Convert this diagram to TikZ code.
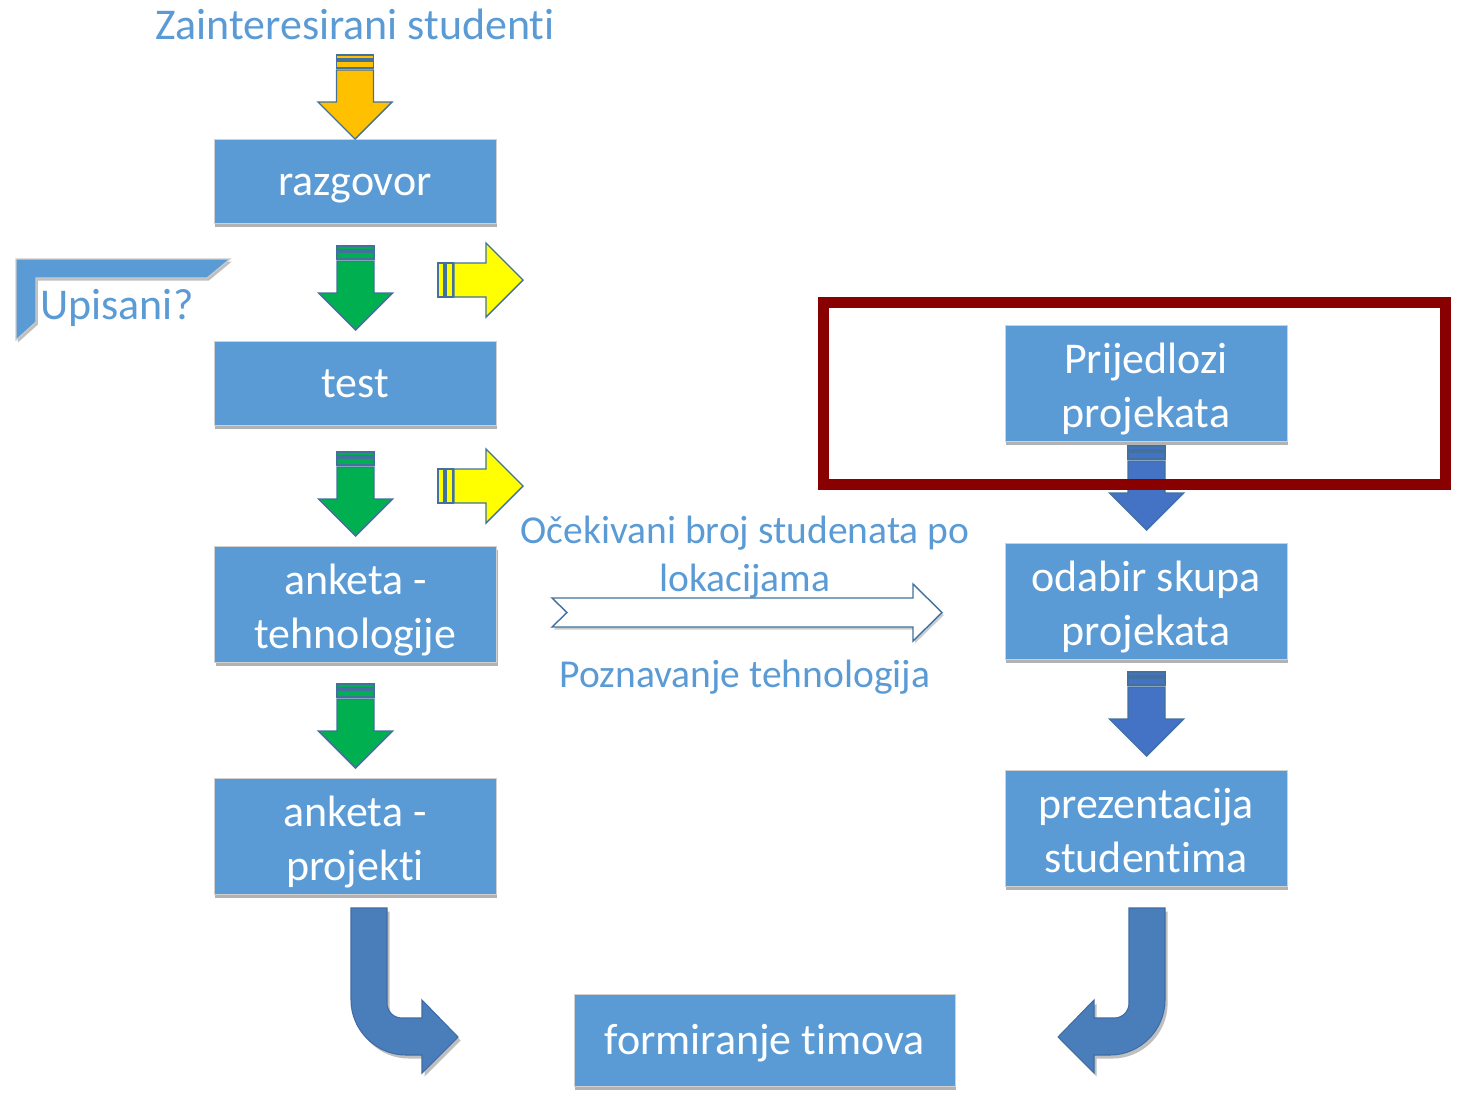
\documentclass[tikz,border=0pt]{standalone}
\usepackage{fontspec}
\setmainfont{Carlito}[Ligatures={CommonOff,ContextualOff}, RawFeature={-liga;-clig;-dlig}]
\usetikzlibrary{shadows}

\definecolor{boxblue}{HTML}{5B9BD5}
\definecolor{lineblue}{HTML}{41719C}
\definecolor{arrowgold}{HTML}{FFC000}
\definecolor{arrowgreen}{HTML}{00B050}
\definecolor{arrowyellow}{HTML}{FFFF00}
\definecolor{arrowblue}{HTML}{4472C4}
\definecolor{curveblue}{RGB}{74,126,187}
\definecolor{curveedge}{RGB}{62,108,165}
\definecolor{framered}{HTML}{880000}

% fixed line strut so that every box line sits at the same baseline offset
\newcommand\LineStrut{\rule[-6.5pt]{0pt}{30pt}}
% taller first line for two-line boxes
\newcommand\UpperStrut{\rule{0pt}{26.6pt}}

\tikzset{
  stepbox/.style={rectangle, fill=boxblue, draw=black!18, line width=0.5pt,
    text=white, align=center,
    font=\fontsize{25}{30.6}\selectfont, inner sep=0pt,
    minimum width=5.64cm,
    execute at begin node=\LineStrut, execute at end node=\LineStrut,
    drop shadow={shadow xshift=0.6pt, shadow yshift=-2pt, opacity=0.3, fill=black}},
  bluetext/.style={text=boxblue, inner sep=0pt, font=\fontsize{25}{30.6}\selectfont},
  midtext/.style={text=boxblue, inner sep=0pt, font=\fontsize{22.5}{27.4}\selectfont},
  blockarrow/.style={draw=lineblue, line width=0.8pt, line join=miter},
  curvearrow/.style={fill=curveblue, draw=curveedge, line width=0.6pt,
    drop shadow={shadow xshift=1.5pt, shadow yshift=-2pt, opacity=0.25, fill=black}},
}

% striped block arrow pointing down: centre x, top y, fill colour
\newcommand\StripeDown[3]{%
  \filldraw[blockarrow, fill=#3] ({#1-18.5},{#2}) rectangle ({#1+18.5},{#2+4});
  \filldraw[blockarrow, fill=#3] ({#1-18.5},{#2+6}) rectangle ({#1+18.5},{#2+13});
  \filldraw[blockarrow, fill=#3] ({#1-18.5},{#2+15}) -- ({#1+18.5},{#2+15})
    -- ({#1+18.5},{#2+47}) -- ({#1+37},{#2+47}) -- ({#1},{#2+84})
    -- ({#1-37},{#2+47}) -- ({#1-18.5},{#2+47}) -- cycle;
}
% striped block arrow pointing right: left x, centre y, fill colour
\newcommand\StripeRight[3]{%
  \filldraw[blockarrow, fill=#3] ({#1},{#2-17}) rectangle ({#1+6},{#2+17});
  \filldraw[blockarrow, fill=#3] ({#1+8},{#2-17}) rectangle ({#1+15},{#2+17});
  \filldraw[blockarrow, fill=#3] ({#1+16},{#2-17}) -- ({#1+48},{#2-17})
    -- ({#1+48},{#2-37}) -- ({#1+85},{#2}) -- ({#1+48},{#2+37})
    -- ({#1+48},{#2+17}) -- ({#1+16},{#2+17}) -- cycle;
}

\begin{document}
\begin{tikzpicture}[x=0.02cm, y=-0.02cm]
\useasboundingbox (0,0) rectangle (1460,1096);

% ---- left column ----
\node[bluetext, anchor=base] (title) at (355,39) {Zainteresirani studenti};

\node[stepbox, minimum height=1.68cm] (razgovor) at (355,181) {razgovor};
\node[stepbox, minimum height=1.68cm] (test) at (355,383) {test};
\node[stepbox, minimum height=2.32cm] (anktech) at (355.5,604) {\UpperStrut anketa -\\tehnologije};
\node[stepbox, minimum height=2.32cm] (ankproj) at (355,836) {\UpperStrut anketa -\\projekti};

\StripeDown{355}{55}{arrowgold}
\StripeDown{355.5}{246}{arrowgreen}
\StripeDown{355.5}{452}{arrowgreen}
\StripeDown{355.5}{684}{arrowgreen}

\StripeRight{438}{280}{arrowyellow}
\StripeRight{438}{486}{arrowyellow}

% corner tab with question
\filldraw[fill=boxblue, draw=black!20, line width=0.6pt,
  drop shadow={shadow xshift=1pt, shadow yshift=-1.5pt, opacity=0.25, fill=black}]
  (16,259) -- (230,259) -- (207,278) -- (36,278) -- (36,322) -- (16,340) -- cycle;
\node[bluetext, anchor=base west] (upisani) at (40,319) {Upisani?};

% ---- middle ----
\node[midtext, anchor=base] (ocek) at (745,543) {Očekivani broj studenata po};
\node[midtext, anchor=base] (lokac) at (745,591) {lokacijama};
\node[midtext, anchor=base] (pozn) at (745,687) {Poznavanje tehnologija};

\filldraw[fill=white, draw=lineblue, line width=0.8pt,
  drop shadow={shadow xshift=1pt, shadow yshift=-1.5pt, opacity=0.2, fill=black}]
  (552,598) -- (913,598) -- (913,584) -- (942,612.5) -- (913,641)
  -- (913,627) -- (552,627) -- (567,612.5) -- cycle;

% ---- right column ----
\node[stepbox, minimum height=2.32cm] (prijed) at (1146,383) {\UpperStrut Prijedlozi\\projekata};
\node[stepbox, minimum height=2.32cm] (odabir) at (1146,601) {\UpperStrut odabir skupa\\projekata};
\node[stepbox, minimum height=2.32cm] (prez) at (1146,828) {\UpperStrut prezentacija\\studentima};

\StripeDown{1146.5}{446}{arrowblue}
\StripeDown{1146.5}{672}{arrowblue}

\draw[framered, line width=0.22cm] (823,302.5) rectangle (1445.5,484);

% ---- bottom ----
\node[stepbox, minimum width=7.62cm, minimum height=1.84cm] (timovi) at (764.5,1040) {formiranje timova};

\filldraw[curvearrow]
  (351,908) -- (387,908) -- (387,1003)
  .. controls (387,1011.5) and (393.5,1018) .. (402,1018)
  -- (422,1018) -- (422,1000) -- (458,1037) -- (422,1073) -- (422,1055)
  -- (406,1055) .. controls (376,1055) and (351,1030) .. (351,1000) -- cycle;

\filldraw[curvearrow]
  (1165,908) -- (1129,908) -- (1129,1003)
  .. controls (1129,1011.5) and (1122.5,1018) .. (1114,1018)
  -- (1094,1018) -- (1094,1000) -- (1058,1037) -- (1094,1073) -- (1094,1055)
  -- (1110,1055) .. controls (1140,1055) and (1165,1030) .. (1165,1000) -- cycle;
\end{tikzpicture}
\end{document}
